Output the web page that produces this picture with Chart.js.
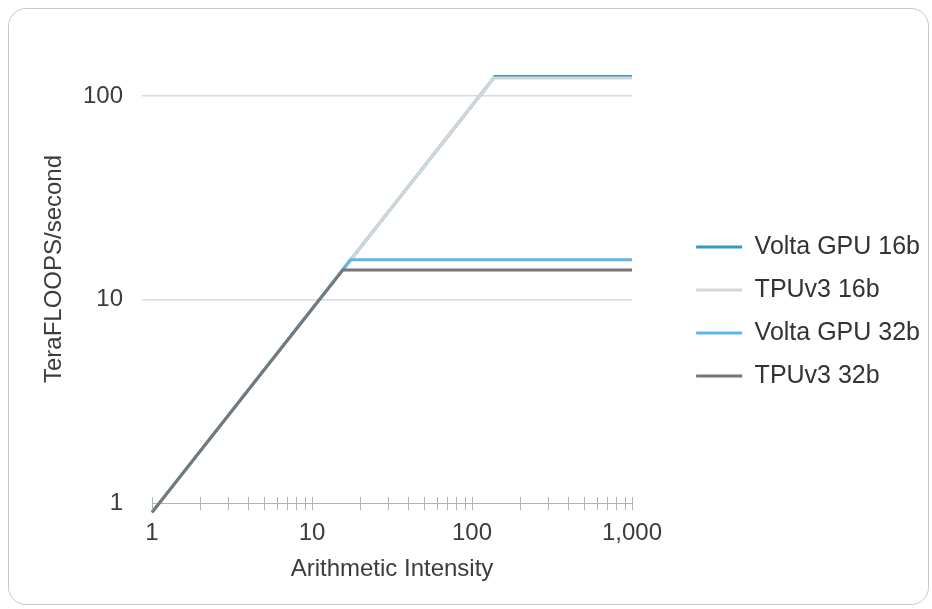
<!DOCTYPE html>
<html><head><meta charset="utf-8">
<script src="https://cdn.jsdelivr.net/npm/chart.js@4"></script>
<style>
html,body{margin:0;padding:0;background:#fff;}
#wrap{position:relative;width:932px;height:609px;overflow:hidden;}
#card{position:absolute;left:8px;top:8px;width:921px;height:597px;border:1px solid #c8c8c8;border-radius:18px;box-sizing:border-box;}
canvas{position:absolute;left:0;top:0;}
</style></head><body>
<div id="wrap"><div id="card"></div><canvas id="c" width="932" height="609"></canvas></div>
<script>
// Series names
const seriesNames = ['Volta GPU 16b', 'TPUv3 16b', 'Volta GPU 32b', 'TPUv3 32b'];
// Roofline points (arithmetic intensity, TeraFLOPS/second)
const voltaGpu16X = [1, 138.9, 1000];
const voltaGpu16Y = [0.9, 125, 125];
const tpuV316X = [1, 136.7, 1000];
const tpuV316Y = [0.9, 123, 123];
const voltaGpu32X = [1, 17.4, 1000];
const voltaGpu32Y = [0.9, 15.7, 15.7];
const tpuV332X = [1, 15.6, 1000];
const tpuV332Y = [0.9, 14, 14];
// Axis ticks
const xTickValues = [1,2,3,4,5,6,7,8,9,10,20,30,40,50,60,70,80,90,100,200,300,400,500,600,700,800,900,1000];
const xLabelValues = [1, 10, 100, 1000];
const yTickValues = [1, 10, 100];

const colors = ['#3399cc', '#d6d6d6', '#5cb8e8', '#777777'];
const seriesX = [voltaGpu16X, tpuV316X, voltaGpu32X, tpuV332X];
const seriesY = [voltaGpu16Y, tpuV316Y, voltaGpu32Y, tpuV332Y];
const drawOrder = [4, 3, 2, 1]; // higher order drawn first

const FONT = '"Liberation Sans", Arial, sans-serif';
const TEXT = '#3c3c3c';
const CHART_RIGHT = 632;
const PAD_RIGHT = 2;

const crossTicks = {
  id: 'crossTicks',
  afterDraw(chart) {
    const xs = chart.scales.x;
    const ctx = chart.ctx;
    const yb = chart.chartArea.bottom;
    ctx.save();
    ctx.strokeStyle = '#b4b4b4';
    ctx.lineWidth = 1;
    ctx.beginPath();
    xs.ticks.forEach(t => {
      const px = Math.round(xs.getPixelForValue(t.value)) + 0.5;
      ctx.moveTo(px, yb - 6);
      ctx.lineTo(px, yb + 7);
    });
    ctx.stroke();
    ctx.restore();
  }
};

new Chart(document.getElementById('c'), {
  type: 'line',
  data: {
    datasets: seriesNames.map((name, i) => ({
      label: name,
      data: seriesX[i].map((x, k) => ({x: x, y: seriesY[i][k]})),
      borderColor: colors[i],
      backgroundColor: colors[i],
      borderWidth: 3,
      pointRadius: 0,
      pointHoverRadius: 0,
      tension: 0,
      clip: false,
      order: drawOrder[i]
    }))
  },
  options: {
    responsive: false,
    animation: false,
    events: [],
    layout: { padding: { top: 35, bottom: 21, left: 0, right: PAD_RIGHT } },
    plugins: {
      tooltip: { enabled: false },
      legend: {
        position: 'right',
        maxWidth: 300,
        labels: {
          usePointStyle: true,
          pointStyle: 'line',
          pointStyleWidth: 46,
          padding: 18,
          color: '#333',
          font: { family: FONT, size: 25 },
          sort: (a, b) => a.datasetIndex - b.datasetIndex
        }
      }
    },
    scales: {
      x: {
        type: 'logarithmic',
        min: 1, max: 1000,
        afterBuildTicks: s => { s.ticks = xTickValues.map(v => ({value: v, major: xLabelValues.includes(v)})); },
        afterFit: s => { s.height = 85; },
        grid: { display: false, drawTicks: false },
        border: { display: true, color: '#b4b4b4', width: 1 },
        ticks: {
          autoSkip: false, maxRotation: 0, minRotation: 0,
          padding: 16,
          color: TEXT,
          font: { family: FONT, size: 24 },
          callback: v => xLabelValues.includes(v) ? v.toLocaleString('en-US') : ''
        },
        title: {
          display: true, text: 'Arithmetic Intensity', color: TEXT,
          font: { family: FONT, size: 24 },
          padding: { top: 8, bottom: 4 }
        }
      },
      y: {
        type: 'logarithmic',
        min: 1, max: 200,
        afterBuildTicks: s => { s.ticks = yTickValues.map(v => ({value: v, major: true})); },
        afterFit: s => { s.width = 152; },
        grid: {
          color: c => (c.tick && c.tick.value === 1) ? 'rgba(0,0,0,0)' : '#dadada',
          lineWidth: 1.5,
          drawTicks: true, tickLength: 10
        },
        border: { display: false },
        ticks: {
          padding: 19, color: TEXT,
          font: { family: FONT, size: 24 },
          callback: v => String(v)
        },
        title: {
          display: true, text: 'TeraFLOOPS/second', color: TEXT,
          font: { family: FONT, size: 24 },
          padding: { top: 40, bottom: 4 }
        }
      },
      yR: {
        type: 'linear',
        position: 'right',
        display: true,
        grid: { display: false, drawTicks: false },
        border: { display: false },
        ticks: { display: false },
        afterFit: s => {
          const lw = s.chart.legend ? s.chart.legend.width : 0;
          s.width = Math.max(0, 932 - PAD_RIGHT - CHART_RIGHT - lw);
        }
      }
    }
  },
  plugins: [crossTicks]
});
</script>
</body></html>
